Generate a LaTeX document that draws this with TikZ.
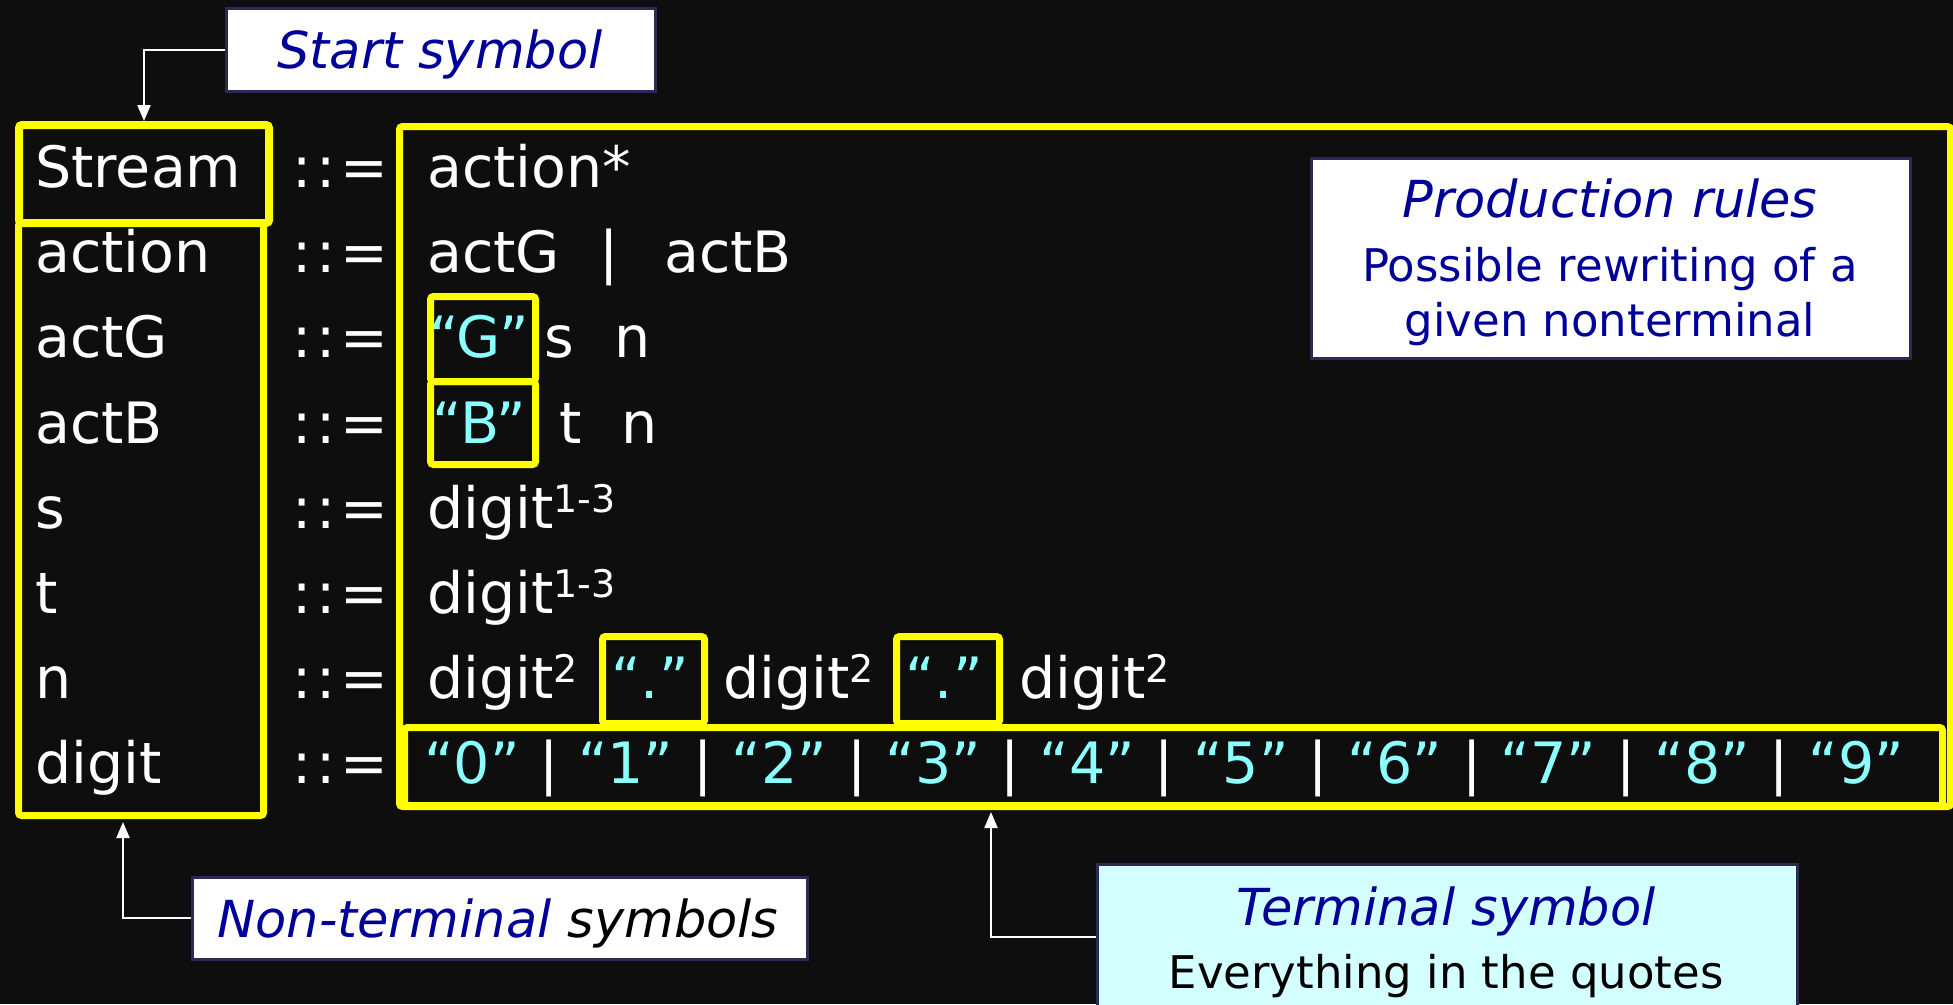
\documentclass[tikz,border=0pt]{standalone}
\usepackage{fontspec}
\setmainfont{DejaVu Sans}
\usetikzlibrary{arrows.meta}

\definecolor{bg}{HTML}{0E0E0E}
\definecolor{hl}{HTML}{FFFF00}
\definecolor{termtxt}{HTML}{8CFFFF}
\definecolor{navy}{HTML}{000099}
\definecolor{noteedge}{HTML}{2A2A55}
\definecolor{termfill}{HTML}{D4FFFF}

\newcommand\gramfont{\fontsize{57}{60}\selectfont}
\newcommand\titlefont{\fontsize{51}{54}\selectfont}
\newcommand\bodyfont{\fontsize{45}{48}\selectfont}
\newcommand\sups[1]{\raisebox{16pt}{\fontsize{38}{38}\selectfont #1}}
\newcommand\defsym{:\kern5pt:\kern5pt=}

\begin{document}
\begin{tikzpicture}[x=1pt,y=-1pt,
  txt/.style={inner sep=0pt, text=white, font=\gramfont, anchor=base west},
  tq/.style={inner sep=0pt, text=termtxt, font=\gramfont, anchor=base},
  bar/.style={inner sep=0pt, text=white, font=\gramfont, anchor=base},
  hlbox/.style={draw=hl, line width=7pt, rounded corners=3pt, inner sep=0pt, anchor=north west},
  note/.style={draw=noteedge, line width=2.5pt, fill=white, inner sep=0pt, anchor=north west},
  notetxt/.style={inner sep=0pt, anchor=base},
  conn/.style={draw=white, line width=2pt, -{Triangle[width=13pt,length=16pt]}},
]
% page
\fill[bg] (0,0) rectangle (1953,1004);
\useasboundingbox (0,0) rectangle (1953,1004);

% highlight frames
\node[hlbox, minimum width=245, minimum height=593] (colbox) at (15,219) {};
\node[hlbox, line width=8pt, minimum width=250, minimum height=98] (streambox) at (15,121) {};
\node[hlbox, minimum width=1551, minimum height=680] (rulebox) at (396,123) {};
\node[hlbox, minimum width=105, minimum height=85] (gbox) at (427,293) {};
\node[hlbox, minimum width=105, minimum height=83] (bbox) at (427,378) {};
\node[hlbox, minimum width=102, minimum height=87] (dotA) at (599,633) {};
\node[hlbox, minimum width=103, minimum height=87] (dotB) at (893,633) {};
\node[hlbox, minimum width=1538, minimum height=78] (digitbox) at (401,724) {};

% left-hand sides
\node[txt] (lStream) at (35,187) {Stream};
\node[txt] (lAction) at (35,272) {action};
\node[txt] (lActG)   at (35,357) {actG};
\node[txt] (lActB)   at (35,443) {actB};
\node[txt] (lS)      at (35,528) {s};
\node[txt] (lT)      at (35,613) {t};
\node[txt] (lN)      at (35,698) {n};
\node[txt] (lDigit)  at (35,783) {digit};

% definition symbols
\foreach \y [count=\i] in {187,272,357,443,528,613,698,783}
  \node[txt] (def\i) at (292,\y) {\defsym};

% right-hand sides
\node[txt] (r0) at (427,187) {action*};
\node[txt] (r1a) at (427,272) {actG};
\node[bar] (r1b) at (609,272) {|};
\node[txt] (r1c) at (664,272) {actB};
\node[tq]  (r2a) at (479,357) {“G”};
\node[txt] (r2b) at (544,357) {s};
\node[txt] (r2c) at (614,357) {n};
\node[tq]  (r3a) at (479,443) {“B”};
\node[txt] (r3b) at (559,443) {t};
\node[txt] (r3c) at (621,443) {n};
\node[txt] (r4) at (427,528) {digit\sups{1-3}};
\node[txt] (r5) at (427,613) {digit\sups{1-3}};
\node[txt] (r6a) at (427,698) {digit\sups{2}};
\node[tq]  (r6b) at (650,698) {“.”};
\node[txt] (r6c) at (723,698) {digit\sups{2}};
\node[tq]  (r6d) at (944,698) {“.”};
\node[txt] (r6e) at (1019,698) {digit\sups{2}};

% digit alternatives
\foreach \d in {0,...,9}
  \node[tq] (q\d) at ({472+153.8*\d},783) {“\d”};
\foreach \d in {0,...,8}
  \node[bar] (sep\d) at ({549+153.8*\d},783) {|};

% annotation boxes
\node[note, minimum width=429, minimum height=83] (startnote) at (225,7) {};
\node[notetxt] at (440,68) {\titlefont\color{navy}\itshape Start symbol};

\node[note, minimum width=599, minimum height=200] (prodnote) at (1310,157) {};
\node[notetxt] at (1610,217) {\titlefont\color{navy}\itshape Production rules};
\node[notetxt] at (1610,281) {\bodyfont\color{navy}Possible rewriting of a};
\node[notetxt] at (1610,336) {\bodyfont\color{navy}given nonterminal};

\node[note, minimum width=615, minimum height=82] (ntnote) at (191,876) {};
\node[notetxt] at (498,937) {\titlefont\itshape\color{navy}Non-terminal \color{black}symbols};

\node[note, fill=termfill, minimum width=700, minimum height=150] (termnote) at (1096,863) {};
\node[notetxt] at (1446,925) {\titlefont\color{navy}\itshape Terminal symbol};
\node[notetxt] at (1446,988) {\bodyfont\color{black}Everything in the quotes};

% pointers
\coordinate (ntend) at (123,822);
\coordinate (termend) at (991,812);
\draw[conn] (startnote.west) -| (streambox.north);
\draw[conn] (ntnote.west) -| (ntend);
\draw[conn] (termnote.west |- 0,937) -| (termend);
\end{tikzpicture}
\end{document}
